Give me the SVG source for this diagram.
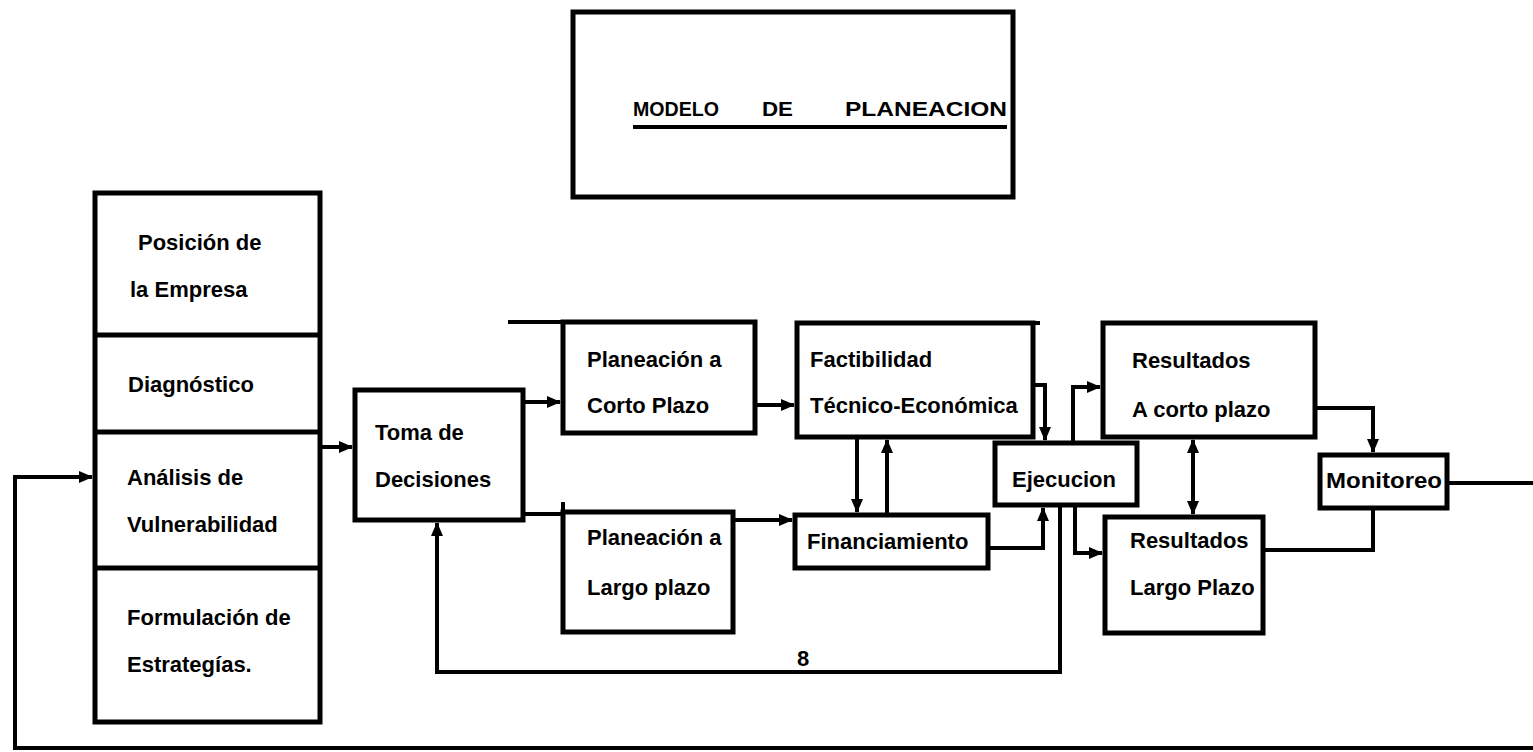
<svg xmlns="http://www.w3.org/2000/svg" width="1533" height="752" viewBox="0 0 1533 752">
<style>
.box{fill:none;stroke:#000;stroke-width:5;stroke-linejoin:miter}
.ln{fill:none;stroke:#000;stroke-width:4;stroke-linejoin:miter}
.t{font-family:"Liberation Sans",Arial,sans-serif;font-weight:bold;font-size:22px;fill:#000}
.title{font-family:"Liberation Sans",Arial,sans-serif;font-weight:bold;font-size:20px;fill:#000}
</style>
<defs>
<marker id="ah" markerWidth="14" markerHeight="12" refX="13" refY="6" orient="auto-start-reverse" markerUnits="userSpaceOnUse">
<path d="M0,0 L14,6 L0,12 z" fill="#000"/>
</marker>
</defs>
<rect width="1533" height="752" fill="#fff"/>

<g id="title">
<rect class="box" x="573" y="12" width="440" height="185"/>
<text class="title" y="116"><tspan x="633" textLength="86" lengthAdjust="spacingAndGlyphs">MODELO</tspan><tspan x="762" textLength="31" lengthAdjust="spacingAndGlyphs">DE</tspan><tspan x="845" textLength="162" lengthAdjust="spacingAndGlyphs">PLANEACION</tspan></text>
<line x1="633" y1="127" x2="1007" y2="127" stroke="#000" stroke-width="4"/>
</g>

<g id="diagnostico-estrategico">
<rect class="box" x="95" y="193" width="225" height="529"/>
<line class="box" x1="95" y1="335" x2="320" y2="335"/>
<line class="box" x1="95" y1="432" x2="320" y2="432"/>
<line class="box" x1="95" y1="568" x2="320" y2="568"/>
<text class="t" x="138" y="250">Posición de</text>
<text class="t" x="130" y="297">la Empresa</text>
<text class="t" x="128" y="392">Diagnóstico</text>
<text class="t" x="127" y="485">Análisis de</text>
<text class="t" x="127" y="532">Vulnerabilidad</text>
<text class="t" x="127" y="625">Formulación de</text>
<text class="t" x="127" y="672">Estrategías.</text>
</g>

<g id="toma-decisiones">
<rect class="box" x="355" y="390" width="168" height="130"/>
<text class="t" x="375" y="440">Toma de</text>
<text class="t" x="375" y="487">Decisiones</text>
</g>

<g id="planeacion-corto">
<rect class="box" x="563" y="322" width="192" height="111"/>
<line class="ln" x1="508" y1="322" x2="563" y2="322"/>
<text class="t" x="587" y="367">Planeación a</text>
<text class="t" x="587" y="413">Corto Plazo</text>
</g>

<g id="factibilidad">
<rect class="box" x="797" y="323" width="236" height="114"/>
<line class="ln" x1="1033" y1="323" x2="1040" y2="323"/>
<text class="t" x="810" y="367">Factibilidad</text>
<text class="t" x="810" y="413">Técnico-Económica</text>
</g>

<g id="planeacion-largo">
<rect class="box" x="563" y="512" width="170" height="120"/>
<line class="ln" x1="563" y1="502" x2="563" y2="512"/>
<text class="t" x="587" y="545">Planeación a</text>
<text class="t" x="587" y="595">Largo plazo</text>
</g>

<g id="financiamiento">
<rect class="box" x="795" y="515" width="193" height="53"/>
<text class="t" x="807" y="549">Financiamiento</text>
</g>

<g id="ejecucion">
<rect class="box" x="995" y="443" width="142" height="62"/>
<text class="t" x="1012" y="487">Ejecucion</text>
</g>

<g id="resultados-corto">
<rect class="box" x="1103" y="323" width="212" height="114"/>
<text class="t" x="1132" y="368">Resultados</text>
<text class="t" x="1132" y="417">A corto plazo</text>
</g>

<g id="resultados-largo">
<rect class="box" x="1105" y="517" width="158" height="116"/>
<text class="t" x="1130" y="548">Resultados</text>
<text class="t" x="1130" y="595">Largo Plazo</text>
</g>

<g id="monitoreo">
<rect class="box" x="1320" y="455" width="127" height="53"/>
<text class="t" x="1326" y="488" textLength="116" lengthAdjust="spacingAndGlyphs">Monitoreo</text>
</g>

<g id="connectors">
<polyline class="ln" points="1533,748 15,748 15,477 92,477" marker-end="url(#ah)"/>
<polyline class="ln" points="1447,483 1533,483"/>
<polyline class="ln" points="320,447 352,447" marker-end="url(#ah)"/>
<polyline class="ln" points="523,402 560,402" marker-end="url(#ah)"/>
<polyline class="ln" points="523,514 563,514"/>
<polyline class="ln" points="755,405 794,405" marker-end="url(#ah)"/>
<polyline class="ln" points="733,520 792,520" marker-end="url(#ah)"/>
<polyline class="ln" points="857,437 857,512" marker-end="url(#ah)"/>
<polyline class="ln" points="887,515 887,440" marker-end="url(#ah)"/>
<polyline class="ln" points="1033,385 1045,385 1045,440" marker-end="url(#ah)"/>
<polyline class="ln" points="988,548 1043,548 1043,508" marker-end="url(#ah)"/>
<polyline class="ln" points="1073,443 1073,387 1100,387" marker-end="url(#ah)"/>
<polyline class="ln" points="1075,505 1075,553 1102,553" marker-end="url(#ah)"/>
<polyline class="ln" points="1060,505 1060,672 437,672 437,523" marker-end="url(#ah)"/>
<polyline class="ln" points="1193,440 1193,514" marker-start="url(#ah)" marker-end="url(#ah)"/>
<polyline class="ln" points="1315,408 1373,408 1373,452" marker-end="url(#ah)"/>
<polyline class="ln" points="1263,550 1373,550 1373,508"/>
<text class="t" x="797" y="666" font-size="16">8</text>
</g>
</svg>
